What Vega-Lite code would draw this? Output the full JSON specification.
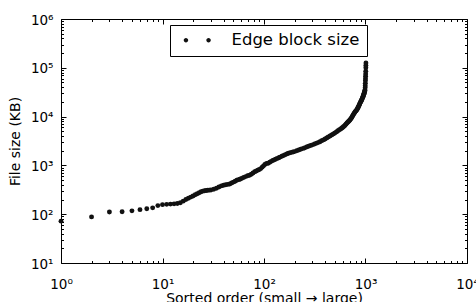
{
  "$schema": "https://vega.github.io/schema/vega-lite/v6.json",
  "width": 406,
  "height": 244,
  "autosize": "none",
  "padding": {"left": 61, "top": 19, "right": 9, "bottom": 39},
  "background": "white",
  "data": {"values": [
    {"rank":1,"size":72},{"rank":2,"size":88},{"rank":3,"size":111},{"rank":4,"size":112},{"rank":5,"size":117},
    {"rank":6,"size":124},{"rank":7,"size":129},{"rank":8,"size":135},{"rank":9,"size":150},{"rank":10,"size":157},
    {"rank":11,"size":159},{"rank":12,"size":161},{"rank":13,"size":163},{"rank":14,"size":166},{"rank":15,"size":172},
    {"rank":16,"size":185},{"rank":17,"size":200},{"rank":18,"size":212},{"rank":19,"size":224},{"rank":20,"size":236},
    {"rank":21,"size":250},{"rank":22,"size":262},{"rank":23,"size":275},{"rank":24,"size":288},{"rank":25,"size":297},
    {"rank":26,"size":303},{"rank":27,"size":307},{"rank":28,"size":310},{"rank":29,"size":312},{"rank":30,"size":314},
    {"rank":32,"size":325},{"rank":34,"size":340},{"rank":36,"size":362},{"rank":38,"size":380},{"rank":40,"size":392},
    {"rank":42,"size":400},{"rank":44,"size":408},{"rank":46,"size":416},{"rank":48,"size":435},{"rank":50,"size":455},
    {"rank":52,"size":475},{"rank":54,"size":495},{"rank":56,"size":510},{"rank":58,"size":520},{"rank":60,"size":540},
    {"rank":63,"size":565},{"rank":66,"size":590},{"rank":69,"size":612},{"rank":72,"size":630},{"rank":75,"size":660},
    {"rank":78,"size":700},{"rank":81,"size":740},{"rank":84,"size":770},{"rank":87,"size":800},{"rank":90,"size":825},
    {"rank":93,"size":860},{"rank":96,"size":920},{"rank":99,"size":980},{"rank":102,"size":1040},{"rank":106,"size":1090},
    {"rank":110,"size":1110},{"rank":114,"size":1160},{"rank":118,"size":1210},{"rank":122,"size":1260},{"rank":126,"size":1300},
    {"rank":130,"size":1340},{"rank":135,"size":1390},{"rank":140,"size":1430},{"rank":144,"size":1480},{"rank":150,"size":1540},
    {"rank":156,"size":1600},{"rank":162,"size":1660},{"rank":168,"size":1720},{"rank":174,"size":1770},{"rank":180,"size":1810},
    {"rank":186,"size":1850},{"rank":193,"size":1880},{"rank":200,"size":1920},{"rank":210,"size":1990},{"rank":220,"size":2070},
    {"rank":230,"size":2140},{"rank":240,"size":2210},{"rank":250,"size":2280},{"rank":263,"size":2380},{"rank":275,"size":2460},
    {"rank":288,"size":2550},{"rank":300,"size":2640},{"rank":315,"size":2750},{"rank":330,"size":2860},{"rank":345,"size":2970},
    {"rank":356,"size":3060},{"rank":370,"size":3190},{"rank":385,"size":3330},{"rank":400,"size":3480},{"rank":415,"size":3640},
    {"rank":430,"size":3810},{"rank":447,"size":4000},{"rank":464,"size":4200},{"rank":480,"size":4380},{"rank":495,"size":4560},
    {"rank":510,"size":4760},{"rank":525,"size":4960},{"rank":540,"size":5180},{"rank":555,"size":5400},{"rank":570,"size":5600},
    {"rank":583,"size":5800},{"rank":595,"size":6000},{"rank":607,"size":6200},{"rank":620,"size":6450},{"rank":632,"size":6750},
    {"rank":645,"size":7050},{"rank":658,"size":7400},{"rank":670,"size":7700},{"rank":680,"size":7950},{"rank":692,"size":8200},
    {"rank":703,"size":8500},{"rank":714,"size":8900},{"rank":725,"size":9300},{"rank":736,"size":9800},{"rank":746,"size":10300},
    {"rank":756,"size":10800},{"rank":766,"size":11300},{"rank":776,"size":11800},{"rank":786,"size":12300},{"rank":796,"size":12800},
    {"rank":808,"size":13200},{"rank":819,"size":13600},{"rank":828,"size":14200},{"rank":837,"size":14800},{"rank":846,"size":15500},
    {"rank":855,"size":16200},{"rank":864,"size":17000},{"rank":873,"size":17800},{"rank":882,"size":18700},{"rank":891,"size":19600},
    {"rank":900,"size":20500},{"rank":909,"size":21200},{"rank":918,"size":21900},{"rank":925,"size":22900},{"rank":932,"size":23800},
    {"rank":939,"size":24800},{"rank":946,"size":25800},{"rank":952,"size":26700},{"rank":958,"size":27700},{"rank":964,"size":28800},
    {"rank":970,"size":30000},{"rank":975,"size":31200},{"rank":980,"size":32500},{"rank":985,"size":33800},{"rank":989,"size":35000},
    {"rank":992,"size":39000},{"rank":994,"size":43000},{"rank":996,"size":48000},{"rank":998,"size":54000},{"rank":1000,"size":60000},
    {"rank":1002,"size":67000},{"rank":1004,"size":75000},{"rank":1006,"size":85000},{"rank":1008,"size":100000},{"rank":1009,"size":112000},
    {"rank":1010,"size":125000}
  ]},
  "resolve": {"axis": {"x": "independent", "y": "independent"}},
  "layer": [
    {
      "mark": {"type": "point", "filled": true, "size": 24, "opacity": 1, "strokeWidth": 0},
      "encoding": {
        "x": {"field": "rank", "type": "quantitative",
          "scale": {"type": "log", "domain": [1, 10000], "nice": false},
          "axis": {"orient": "bottom", "values": [1, 10, 100, 1000, 10000], "ticks": false,
            "labelExpr": "'10' + ['⁰','¹','²','³','⁴','⁵','⁶'][round(log(datum.value)/LN10)]",
            "labelFontSize": 13.5, "labelPadding": 14, "labelFlush": false, "labelOverlap": false,
            "title": "Sorted order (small → large)", "titleFontSize": 14, "titlePadding": 1}},
        "y": {"field": "size", "type": "quantitative",
          "scale": {"type": "log", "domain": [10, 1000000], "nice": false},
          "axis": {"orient": "left", "values": [10, 100, 1000, 10000, 100000, 1000000], "ticks": false,
            "labelExpr": "'10' + ['⁰','¹','²','³','⁴','⁵','⁶'][round(log(datum.value)/LN10)]",
            "labelFontSize": 13.5, "labelPadding": 8, "labelOffset": 1, "labelFlush": false, "labelOverlap": false,
            "title": "File size (KB)", "titleFontSize": 14, "titlePadding": 8}},
        "color": {"datum": "Edge block size", "type": "nominal",
          "scale": {"range": ["#111111"]},
          "legend": {"title": null, "orient": "none", "legendX": 109, "legendY": 6,
            "symbolType": "M -0.385 0 A 0.56 0.56 0 1 0 0.735 0 A 0.56 0.56 0 1 0 -0.385 0 Z M 5.27 0 A 0.56 0.56 0 1 0 6.39 0 A 0.56 0.56 0 1 0 5.27 0 Z",
            "symbolSize": 64, "symbolStrokeWidth": 0, "symbolOpacity": 1,
            "labelFont": "DejaVu Sans", "labelFontSize": 16.5, "labelColor": "black", "labelOffset": 38,
            "padding": 7, "strokeColor": "black", "fillColor": "white", "cornerRadius": 0}}
      }
    },
    {
      "mark": {"type": "point", "opacity": 0},
      "encoding": {
        "x": {"field": "rank", "type": "quantitative", "scale": {"type": "log", "domain": [1, 10000], "nice": false},
          "axis": {"orient": "bottom", "values": [1, 10, 100, 1000, 10000], "labels": false, "title": null, "tickSize": -5}},
        "y": {"field": "size", "type": "quantitative", "scale": {"type": "log", "domain": [10, 1000000], "nice": false},
          "axis": {"orient": "left", "values": [10, 100, 1000, 10000, 100000, 1000000], "labels": false, "title": null, "tickSize": -5}}
      }
    },
    {
      "mark": {"type": "point", "opacity": 0},
      "encoding": {
        "x": {"field": "rank", "type": "quantitative", "scale": {"type": "log", "domain": [1, 10000], "nice": false},
          "axis": {"orient": "bottom", "values": [2,3,4,5,6,7,8,9,20,30,40,50,60,70,80,90,200,300,400,500,600,700,800,900,2000,3000,4000,5000,6000,7000,8000,9000], "labels": false, "title": null, "tickSize": -2.5}},
        "y": {"field": "size", "type": "quantitative", "scale": {"type": "log", "domain": [10, 1000000], "nice": false},
          "axis": {"orient": "left", "values": [20,30,40,50,60,70,80,90,200,300,400,500,600,700,800,900,2000,3000,4000,5000,6000,7000,8000,9000,20000,30000,40000,50000,60000,70000,80000,90000,200000,300000,400000,500000,600000,700000,800000,900000], "labels": false, "title": null, "tickSize": -2.5}}
      }
    },
    {
      "mark": {"type": "point", "opacity": 0},
      "encoding": {
        "x": {"field": "rank", "type": "quantitative", "scale": {"type": "log", "domain": [1, 10000], "nice": false},
          "axis": {"orient": "top", "values": [1, 10, 100, 1000, 10000], "labels": false, "title": null, "tickSize": -5}},
        "y": {"field": "size", "type": "quantitative", "scale": {"type": "log", "domain": [10, 1000000], "nice": false},
          "axis": {"orient": "right", "values": [10, 100, 1000, 10000, 100000, 1000000], "labels": false, "title": null, "tickSize": -5}}
      }
    },
    {
      "mark": {"type": "point", "opacity": 0},
      "encoding": {
        "x": {"field": "rank", "type": "quantitative", "scale": {"type": "log", "domain": [1, 10000], "nice": false},
          "axis": {"orient": "top", "values": [2,3,4,5,6,7,8,9,20,30,40,50,60,70,80,90,200,300,400,500,600,700,800,900,2000,3000,4000,5000,6000,7000,8000,9000], "labels": false, "title": null, "tickSize": -2.5}},
        "y": {"field": "size", "type": "quantitative", "scale": {"type": "log", "domain": [10, 1000000], "nice": false},
          "axis": {"orient": "right", "values": [20,30,40,50,60,70,80,90,200,300,400,500,600,700,800,900,2000,3000,4000,5000,6000,7000,8000,9000,20000,30000,40000,50000,60000,70000,80000,90000,200000,300000,400000,500000,600000,700000,800000,900000], "labels": false, "title": null, "tickSize": -2.5}}
      }
    }
  ],
  "config": {
    "font": "DejaVu Sans",
    "view": {"stroke": "black", "strokeWidth": 1},
    "axis": {"grid": false, "domain": false, "tickColor": "black", "tickWidth": 1,
      "labelColor": "black", "titleColor": "black", "labelFont": "DejaVu Sans", "titleFont": "DejaVu Sans", "titleFontWeight": "normal"}
  }
}
